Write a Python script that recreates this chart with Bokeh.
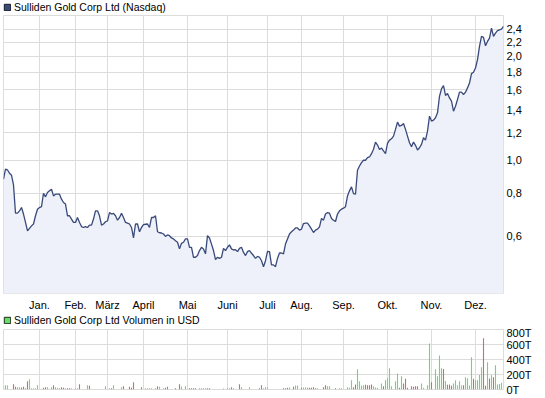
from bokeh.plotting import figure
from bokeh.layouts import column
from bokeh.models import Range1d, FixedTicker, CustomJSTickFormatter, Legend, LegendItem
from bokeh.embed import file_html
from bokeh.resources import INLINE

title_price = "Sulliden Gold Corp Ltd (Nasdaq)"
title_volume = "Sulliden Gold Corp Ltd Volumen in USD"

month_labels = ["Jan.", "Feb.", "März", "April", "Mai", "Juni", "Juli", "Aug.", "Sep.", "Okt.", "Nov.", "Dez."]
month_start_day = [18, 36, 52, 70, 92, 112, 132, 149, 170, 192, 214, 236]

# closing price (USD), one value per trading day
price = [
    0.880, 0.941, 0.936, 0.916, 0.904, 0.847, 0.701, 0.701, 0.712, 0.728,
    0.697, 0.659, 0.623, 0.633, 0.644, 0.652, 0.689, 0.720, 0.728, 0.732,
    0.801, 0.782, 0.805, 0.814, 0.823, 0.787, 0.796, 0.796, 0.796, 0.770,
    0.753, 0.745, 0.689, 0.689, 0.674, 0.659, 0.659, 0.681, 0.659, 0.641,
    0.637, 0.641, 0.637, 0.647, 0.647, 0.674, 0.712, 0.712, 0.689, 0.647,
    0.652, 0.662, 0.666, 0.704, 0.697, 0.700, 0.689, 0.669, 0.681, 0.700,
    0.681, 0.659, 0.656, 0.652, 0.637, 0.594, 0.652, 0.652, 0.619, 0.637,
    0.649, 0.651, 0.652, 0.637, 0.681, 0.681, 0.689, 0.619, 0.615, 0.614,
    0.610, 0.600, 0.606, 0.603, 0.594, 0.590, 0.583, 0.577, 0.552, 0.573,
    0.577, 0.590, 0.590, 0.558, 0.558, 0.522, 0.522, 0.528, 0.546, 0.558,
    0.552, 0.534, 0.603, 0.594, 0.570, 0.546, 0.514, 0.522, 0.518, 0.522,
    0.554, 0.546, 0.558, 0.567, 0.552, 0.548, 0.549, 0.542, 0.554, 0.558,
    0.539, 0.528, 0.542, 0.546, 0.536, 0.528, 0.518, 0.525, 0.522, 0.510,
    0.490, 0.510, 0.543, 0.542, 0.496, 0.496, 0.490, 0.518, 0.537, 0.537,
    0.534, 0.570, 0.590, 0.610, 0.619, 0.626, 0.635, 0.635, 0.626, 0.630,
    0.654, 0.656, 0.656, 0.644, 0.630, 0.616, 0.626, 0.630, 0.640, 0.677,
    0.669, 0.697, 0.704, 0.701, 0.677, 0.669, 0.663, 0.697, 0.712, 0.720,
    0.725, 0.732, 0.787, 0.814, 0.836, 0.799, 0.796, 0.934, 0.961, 0.983,
    0.999, 0.999, 1.016, 1.021, 1.044, 1.075, 1.128, 1.106, 1.073, 1.084,
    1.063, 1.044, 1.118, 1.143, 1.153, 1.174, 1.228, 1.289, 1.255, 1.261,
    1.278, 1.228, 1.174, 1.123, 1.093, 1.128, 1.104, 1.070, 1.086, 1.111,
    1.161, 1.143, 1.214, 1.342, 1.298, 1.307, 1.327, 1.372, 1.533, 1.610,
    1.647, 1.541, 1.561, 1.516, 1.483, 1.387, 1.434, 1.500, 1.575, 1.575,
    1.551, 1.575, 1.621, 1.675, 1.783, 1.799, 1.852, 1.959, 2.139, 2.287,
    2.273, 2.149, 2.212, 2.262, 2.417, 2.287, 2.337, 2.379, 2.391, 2.400,
    2.445,
]
day = list(range(len(price)))
price_ticks = [0.6, 0.8, 1.0, 1.2, 1.4, 1.6, 1.8, 2.0, 2.2, 2.4]

# volume (thousand USD) on days with trades; direction u=up, d=down, n=unchanged
vol_day = [0, 1, 2, 5, 6, 7, 8, 9, 10, 11, 12, 13, 14, 15, 16, 17, 20, 21, 22, 24,
           25, 26, 27, 28, 29, 30, 31, 32, 33, 34, 36, 37, 38, 42, 43, 51, 53, 54, 55, 59,
           60, 63, 64, 65, 69, 71, 72, 73, 74, 76, 77, 78, 80, 81, 82, 86, 88, 89, 91, 93,
           94, 95, 96, 98, 99, 100, 101, 102, 103, 110, 112, 113, 114, 115, 118, 119, 123, 128, 129, 130,
           131, 132, 140, 141, 142, 143, 145, 146, 147, 149, 150, 151, 152, 153, 154, 155, 156, 157, 160, 161,
           162, 163, 166, 168, 169, 172, 173, 174, 175, 176, 177, 178, 179, 180, 181, 182, 183, 184, 185, 186,
           187, 189, 190, 191, 192, 193, 194, 196, 197, 198, 199, 200, 201, 202, 204, 205, 206, 207, 209, 210,
           212, 213, 214, 216, 217, 218, 219, 220, 221, 222, 223, 224, 225, 226, 227, 228, 229, 230, 231, 232,
           233, 234, 235, 236, 237, 238, 239, 240, 241, 242, 243, 244, 245, 246, 247, 248, 249]
vol_k = [44, 58, 58, 71, 36, 31, 31, 27, 36, 22, 111, 138, 18, 18, 18, 58, 22, 31, 31, 31,
         58, 31, 22, 18, 31, 22, 18, 18, 18, 18, 18, 18, 71, 58, 49, 44, 18, 18, 58, 31,
         44, 36, 22, 98, 31, 18, 18, 18, 18, 18, 44, 36, 18, 22, 36, 18, 71, 40, 44, 18,
         18, 18, 18, 18, 18, 18, 18, 18, 18, 13, 18, 18, 31, 18, 71, 31, 31, 18, 58, 18,
         31, 31, 18, 18, 22, 27, 36, 53, 53, 22, 27, 27, 27, 22, 22, 31, 22, 18, 31, 58,
         44, 44, 18, 18, 18, 31, 22, 124, 31, 67, 271, 111, 49, 58, 62, 58, 58, 67, 44, 27,
         22, 80, 44, 124, 150, 284, 44, 111, 213, 22, 178, 80, 142, 22, 44, 36, 44, 44, 80, 22,
         58, 613, 98, 271, 178, 455, 284, 275, 115, 62, 67, 49, 80, 124, 58, 111, 58, 58, 164, 151,
         53, 431, 142, 124, 124, 195, 298, 684, 49, 364, 147, 191, 164, 324, 67, 75, 89]
vol_dir = ["u", "u", "n", "d", "d", "u", "u", "d", "d", "n", "d", "u", "u", "n", "n", "u", "d", "d", "u", "u",
           "d", "u", "n", "n", "d", "d", "n", "d", "d", "n", "n", "n", "d", "u", "d", "u", "n", "d", "u", "u",
           "d", "d", "d", "d", "d", "u", "n", "u", "n", "u", "d", "u", "n", "d", "d", "d", "d", "u", "u", "d",
           "d", "d", "d", "u", "u", "u", "u", "d", "d", "u", "n", "u", "d", "u", "d", "u", "u", "d", "d", "n",
           "u", "n", "d", "d", "d", "u", "d", "u", "u", "d", "u", "u", "u", "d", "d", "d", "u", "u", "d", "d",
           "u", "u", "d", "u", "u", "u", "u", "u", "d", "d", "u", "u", "u", "u", "d", "d", "d", "d", "u", "u",
           "n", "u", "d", "u", "u", "u", "u", "u", "u", "d", "u", "d", "d", "d", "d", "d", "d", "d", "u", "n",
           "u", "u", "d", "u", "u", "u", "u", "d", "u", "d", "d", "d", "u", "u", "n", "u", "n", "d", "u", "u",
           "u", "u", "d", "u", "u", "u", "u", "d", "d", "u", "d", "u", "d", "u", "u", "u", "u"]
volume_ticks = [0, 200, 400, 600, 800]
volume_labels = ["0T", "200T", "400T", "600T", "800T"]

FONT = "Liberation Sans"
GRID = "#dcdcdc"
LINE = "#394a7a"
AREA = "#eef1fa"
DIR_COLOR = {"u": "#66dd66", "d": "#e06464", "n": "#b4b4b4"}


def style_axis(ax):
    ax.axis_line_color = None
    ax.major_tick_line_color = None
    ax.minor_tick_line_color = None
    ax.major_tick_out = 0
    ax.major_tick_in = 0
    ax.minor_tick_out = 0
    ax.minor_tick_in = 0
    ax.major_label_text_font = FONT
    ax.major_label_text_font_size = "11px"
    ax.major_label_text_color = "#000000"


def header(label, fill, edge, height):
    h = figure(width=545, height=height, x_range=Range1d(0, 1), y_range=Range1d(0, 1),
               x_axis_location=None, y_axis_location=None,
               output_backend="svg", toolbar_location=None,
               min_border_left=3, min_border_right=0, min_border_top=0, min_border_bottom=0)
    h.title.visible = False
    h.outline_line_color = None
    h.xgrid.visible = False
    h.ygrid.visible = False
    # legend key renderer: one swatch kept outside the visible range
    key = h.quad(left=[2], right=[3], top=[3], bottom=[2], fill_color=fill, line_color=edge)
    leg = Legend(items=[LegendItem(label=label, renderers=[key])],
                 location="top_left", orientation="horizontal",
                 glyph_width=8, glyph_height=8, label_standoff=3,
                 padding=0, margin=0, spacing=0, label_height=height - 1,
                 border_line_color=None, background_fill_alpha=0,
                 label_text_font=FONT, label_text_font_size="10.5px",
                 label_text_color="#000000")
    h.add_layout(leg)
    return h


# ---- price chart ----
h1 = header(title_price, "#3c4a78", "#15182a", 14)
p1 = figure(width=545, height=300, x_range=Range1d(0, 250), y_range=Range1d(0.4096, 2.631),
            y_axis_type="log", y_axis_location="right",
            output_backend="svg", toolbar_location=None,
            min_border_left=3, min_border_right=42, min_border_top=1, min_border_bottom=21)
p1.title.visible = False
p1.outline_line_color = GRID
p1.varea(x=day, y1=0.1, y2=price, fill_color=AREA)
p1.line(day, price, line_color=LINE, line_width=1.3)

p1.yaxis.ticker = FixedTicker(ticks=price_ticks, minor_ticks=[])
p1.ygrid.ticker = FixedTicker(ticks=price_ticks, minor_ticks=[])
p1.yaxis.formatter = CustomJSTickFormatter(code="return tick.toFixed(1).replace('.', ',');")
p1.yaxis.major_label_standoff = 3
style_axis(p1.yaxis[0])

p1.xaxis.ticker = FixedTicker(ticks=month_start_day, minor_ticks=[])
p1.xgrid.ticker = FixedTicker(ticks=month_start_day, minor_ticks=[])
p1.xaxis.major_label_overrides = {d: m for d, m in zip(month_start_day, month_labels)}
p1.xaxis.major_label_standoff = 5
style_axis(p1.xaxis[0])
p1.xgrid.grid_line_color = GRID
p1.ygrid.grid_line_color = GRID

# ---- volume chart ----
h2 = header(title_volume, "#66dd66", "#1a2a1a", 12)
p2 = figure(width=545, height=72, x_range=Range1d(0, 250), y_range=Range1d(0, 800),
            y_axis_location="right", output_backend="svg", toolbar_location=None,
            min_border_left=3, min_border_right=42, min_border_top=3, min_border_bottom=9)
p2.title.visible = False
p2.outline_line_color = GRID
p2.vbar(x=vol_day, top=vol_k, width=0.55,
        fill_color=[DIR_COLOR[d] for d in vol_dir], line_color=None)
p2.yaxis.ticker = FixedTicker(ticks=volume_ticks, minor_ticks=[])
p2.ygrid.ticker = FixedTicker(ticks=volume_ticks, minor_ticks=[])
p2.yaxis.major_label_overrides = {t: l for t, l in zip(volume_ticks, volume_labels)}
p2.yaxis.major_label_standoff = 3
style_axis(p2.yaxis[0])
p2.xaxis.visible = False
p2.xgrid.ticker = FixedTicker(ticks=month_start_day, minor_ticks=[])
p2.xgrid.grid_line_color = GRID
p2.ygrid.grid_line_color = GRID

layout = column(h1, p1, h2, p2, spacing=0)
open("out.html", "w").write(file_html(layout, INLINE))
